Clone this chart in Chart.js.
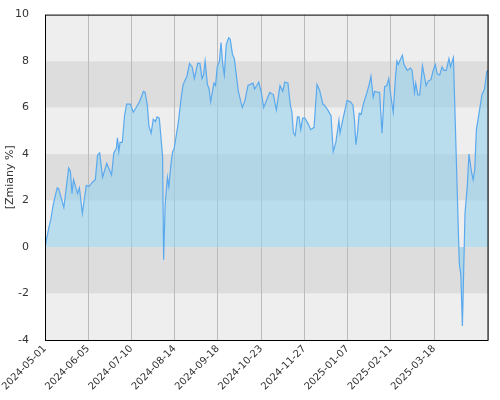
<!DOCTYPE html>
<html><head><meta charset="utf-8">
<script src="https://cdn.jsdelivr.net/npm/chart.js@4"></script>
<style>html,body{margin:0;padding:0;background:#fff}#w{width:500px;height:400px}</style>
</head><body><div id="w"><canvas id="c"></canvas></div>
<script>
const tickLabels=["2024-05-01","2024-06-05","2024-07-10","2024-08-14","2024-09-18","2024-10-23","2024-11-27","2025-01-07","2025-02-11","2025-03-18","2025-04-24"];
const dayIndex=[0,2.3,3.4,4.7,5.6,7.1,7.9,10.9,13.7,14.7,15.6,16.5,18.8,19.9,21.6,23.9,25.4,27.6,29.1,30.4,31.6,33.3,35.7,38.5,39.8,41.3,41.9,42.7,43.4,44.7,46.0,47.2,49.4,51.1,54.7,56.9,57.9,59.2,60.1,61.4,62.6,63.9,64.8,66.1,68.0,68.6,69.5,70.8,71.6,72.9,73.8,74.6,77.0,78.9,79.9,82.1,83.6,85.1,86.4,88.3,89.6,90.8,91.7,92.6,93.9,94.9,95.8,97.7,98.6,99.6,100.9,101.8,102.8,103.7,104.8,106.2,107.1,108.4,109.5,111.8,114.1,115.6,
117.4,120.3,121.2,122.5,123.6,125.0,126.5,127.8,130.0,132.1,133.8,135.9,137.5,138.7,140.5,141.9,142.8,143.7,144.7,146.0,146.9,147.9,149.0,150.3,152.2,153.7,155.6,157.3,158.8,160.7,161.6,163.5,165.4,166.7,168.2,170.0,170.6,172.3,174.7,176.6,178.1,179.0,179.8,180.7,181.7,182.8,184.1,186.0,187.5,188.5,189.8,190.7,192.6,193.5,194.9,196.4,197.7,198.8,200.1,201.4,202.6,203.5,204.3,205.4,206.7,207.6,209.5,211.4,212.3,213.7,214.4,215.6,216.7,218.3,219.3,220.4,221.7,223.2,224.5,225.7,226.8,228.3,229.6,230.7,232.1,233.6,234.5,236.2,239.6,240.5,241.4,242.9,244.2,245.2,246.5,247.6,248.5,249.5,250.8,252.7,254.2,255.5,256.5];
const changes=[0,0.87,1.2,1.8,2.1,2.55,2.5,1.7,3.4,3.25,2.3,2.9,2.3,2.55,1.45,2.65,2.6,2.8,2.9,3.95,4.05,3.0,3.6,3.1,4.05,4.25,4.7,4.1,4.5,4.5,5.65,6.15,6.15,5.8,6.25,6.7,6.65,6.1,5.2,4.9,5.5,5.4,5.6,5.55,3.9,-0.55,1.85,3.0,2.6,3.6,4.1,4.2,5.3,6.5,7.0,7.35,7.9,7.75,7.25,7.9,7.9,7.25,7.4,8.0,7.0,6.8,6.25,7.05,6.95,7.75,8.0,8.8,7.85,7.4,8.7,9.0,8.95,8.3,8.1,6.7,6.0,6.3,
6.95,7.05,6.8,6.95,7.1,6.7,6.0,6.25,6.65,6.55,5.9,6.95,6.7,7.1,7.05,6.1,5.8,4.9,4.8,5.6,5.6,5.05,5.55,5.55,5.3,5.05,5.15,7.0,6.75,6.15,6.1,5.9,5.65,4.1,4.5,5.45,4.9,5.5,6.3,6.25,6.1,5.45,4.4,4.9,5.75,5.7,6.15,6.6,7.0,7.35,6.45,6.7,6.65,6.65,4.9,6.9,6.95,7.25,6.45,5.8,7.2,8.0,7.85,8.05,8.25,7.85,7.6,7.7,7.6,6.65,7.05,6.55,6.55,7.8,7.4,6.95,7.15,7.2,7.6,7.85,7.45,7.4,7.75,7.6,7.6,8.1,7.75,8.15,-0.7,-1.2,-3.4,1.45,2.6,4.0,3.3,2.9,3.3,5.05,5.65,6.55,6.8,7.55,7.6];
const pts=dayIndex.map((x,i)=>({x,y:changes[i]}));
const bands={id:'bands',beforeDraw(ch){const {ctx,chartArea:a,scales:{y}}=ch;ctx.save();
for(let v=-4;v<10;v+=2){ctx.fillStyle=((v/2)%2===0)?'#dddddd':'#eeeeee';if(v===-4||v===0||v===4||v===8)ctx.fillStyle='#eeeeee';else ctx.fillStyle='#dddddd';
const t=y.getPixelForValue(v+2),b=y.getPixelForValue(v);ctx.fillRect(a.left,t,a.right-a.left,b-t);}ctx.restore();},
afterDraw(ch){const {ctx,chartArea:a}=ch;ctx.save();ctx.strokeStyle='#000';ctx.lineWidth=1;ctx.strokeRect(a.left+0.5,a.top+0.5,a.right-a.left-1,a.bottom-a.top);ctx.restore();}};
new Chart(document.getElementById('c'),{type:'line',
data:{datasets:[{data:pts,borderColor:'#5aa9ee',borderWidth:1.2,backgroundColor:'rgba(150,210,235,0.6)',fill:'origin',pointRadius:0,tension:0}]},
options:{responsive:true,maintainAspectRatio:false,animation:false,layout:{padding:{top:14,right:0}},
plugins:{legend:{display:false},tooltip:{enabled:false}},
scales:{x:{type:'linear',min:0,max:256.5,afterFit(s){s.height=60;},
ticks:{stepSize:25,autoSkip:false,maxRotation:45,minRotation:45,color:'#333',font:{family:'DejaVu Sans',size:10},callback:v=>tickLabels[v/25]??''},
grid:{color:'#bbbbbb',drawTicks:false},border:{display:false}},
y:{min:-4,max:10,afterFit(s){s.width=45;},ticks:{stepSize:2,color:'#333',font:{family:'DejaVu Sans',size:11},padding:8},
grid:{display:false},border:{display:false},
title:{display:true,text:'[Zmiany %]',color:'#333',font:{family:'DejaVu Sans',size:11}}}}},
plugins:[bands]});
</script></body></html>
